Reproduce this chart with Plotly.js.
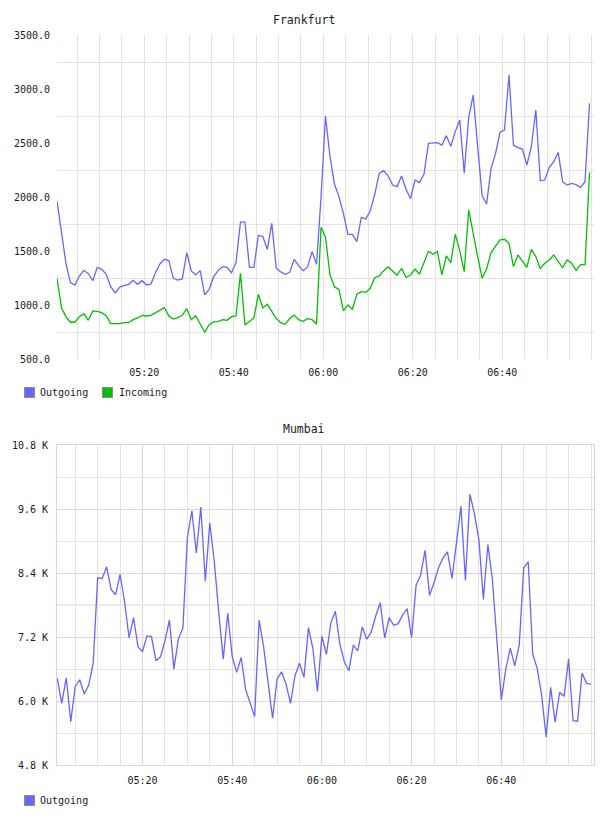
<!DOCTYPE html>
<html>
<head>
<meta charset="utf-8">
<script src="https://cdn.plot.ly/plotly-3.0.1.min.js"></script>
<style>
  html, body { margin: 0; padding: 0; background: #ffffff; }
  #chart { width: 608px; height: 816px; }
</style>
</head>
<body>
<div id="chart"></div>
<script>
// Traffic per minute, 05:00 - 07:00
const DAY = '2024-01-01';

const frankfurtOutgoing = [
  1966, 1682, 1389, 1210, 1188, 1271, 1324, 1293, 1228, 1352,
  1333, 1287, 1173, 1114, 1167, 1182, 1194, 1231, 1194, 1228,
  1188, 1197, 1302, 1383, 1426, 1413, 1250, 1234, 1244, 1488,
  1318, 1281, 1321, 1096, 1148, 1265, 1321, 1358, 1352, 1302,
  1395, 1771, 1771, 1352, 1352, 1648, 1636, 1518, 1759, 1343,
  1309, 1287, 1305, 1426, 1367, 1321, 1355, 1497, 1380, 2000,
  2753, 2376, 2123, 2006, 1852, 1657, 1657, 1589, 1815, 1799,
  1873, 2028, 2222, 2247, 2197, 2114, 2099, 2197, 2074, 1987,
  2160, 2136, 2213, 2500, 2506, 2506, 2484, 2571, 2472, 2608,
  2716, 2222, 2740, 2947, 2469, 2015, 1938, 2268, 2407, 2602,
  2623, 3132, 2484, 2460, 2447, 2299, 2469, 2808, 2154, 2160,
  2278, 2330, 2416, 2142, 2114, 2129, 2117, 2092, 2145, 2870
];

const frankfurtIncoming = [
  1250, 978, 895, 843, 843, 895, 923, 861, 948, 944,
  932, 904, 830, 830, 830, 839, 839, 867, 883, 907,
  901, 907, 932, 954, 978, 901, 873, 886, 907, 969,
  867, 904, 824, 750, 821, 846, 849, 867, 861, 895,
  901, 1296, 818, 849, 883, 1102, 975, 1009, 948, 877,
  839, 824, 877, 910, 867, 852, 877, 867, 827, 1722,
  1630, 1281, 1170, 1148, 948, 1003, 963, 1102, 1126, 1120,
  1157, 1256, 1272, 1321, 1355, 1312, 1278, 1343, 1259, 1281,
  1336, 1290, 1398, 1500, 1472, 1497, 1281, 1457, 1395, 1657,
  1506, 1312, 1883, 1651, 1451, 1250, 1336, 1488, 1543, 1605,
  1611, 1574, 1358, 1466, 1410, 1352, 1518, 1451, 1339, 1389,
  1420, 1466, 1404, 1349, 1420, 1389, 1324, 1376, 1376, 2231
];

const mumbaiOutgoing = [
  6429, 5963, 6442, 5621, 6280, 6404, 6137, 6305, 6709, 8313,
  8301, 8518, 8096, 7996, 8375, 7865, 7194, 7567, 7020, 6933,
  7225, 7213, 6759, 6833, 7132, 7523, 6603, 7175, 7368, 9059,
  9569, 8780, 9638, 8251, 9339, 8624, 7660, 6790, 7648, 6839,
  6541, 6821, 6218, 5950, 5714, 7523, 7020, 6355, 5683, 6417,
  6553, 6323, 5963, 6479, 6715, 6448, 7380, 6976, 6187, 7219,
  6880, 7474, 7685, 7070, 6740, 6572, 7051, 6945, 7393, 7163,
  7300, 7598, 7847, 7188, 7567, 7424, 7455, 7617, 7735, 7194,
  8176, 8357, 8829, 7984, 8220, 8500, 8686, 8798, 8301, 8966,
  9650, 8263, 9880, 9513, 9028, 7909, 8935, 8295, 7163, 6025,
  6603, 6995, 6665, 7057, 8500, 8612, 6883, 6616, 6106, 5329,
  6261, 5608, 6168, 6093, 6790, 5639, 5627, 6529, 6336, 6323
];

// axis ticks
const timeTickLabels = ['05:20', '05:40', '06:00', '06:20', '06:40'];
const frankfurtTicks = [500, 1000, 1500, 2000, 2500, 3000, 3500];
const frankfurtGrid = [750, 1250, 1750, 2250, 2750, 3250];
const mumbaiTicks = [4800, 6000, 7200, 8400, 9600, 10800];
const mumbaiTickText = ['4.8 K', '6.0 K', '7.2 K', '8.4 K', '9.6 K', '10.8 K'];
const mumbaiMinorGrid = [5400, 6600, 7800, 9000, 10200];
const mumbaiMidLine = [7800];

// sample times: one sample per minute
function pad(n) { return String(n).padStart(2, '0'); }
function minuteStamps(startSeconds, count) {
  const out = [];
  for (let i = 0; i < count; i++) {
    const t = startSeconds + i * 60;
    out.push(DAY + ' ' + pad(Math.floor(t / 3600)) + ':' + pad(Math.floor((t % 3600) / 60)) + ':' + pad(t % 60));
  }
  return out;
}
const frankfurtTimes = minuteStamps(5 * 3600 + 30, frankfurtOutgoing.length);
const mumbaiTimes = minuteStamps(5 * 3600 + 60, mumbaiOutgoing.length);
const timeTickVals = timeTickLabels.map(s => DAY + ' ' + s);

const BLUE = '#6666ff';
const GREEN = '#00c000';
const GREY_GRID = '#e3e3e3';
const PURPLE_GRID = '#e6cde6';
const FONT = 'DejaVu Sans Mono, monospace';
const TICKFONT = { family: FONT, size: 10, color: '#1a1a1a' };

const X_DOMAIN = [57 / 608, 594 / 608];
const H = 816;
const topDomain = [1 - 359.3 / H, 1 - 35.3 / H];
const botDomain = [1 - 765.4 / H, 1 - 445 / H];

const traces = [
  { x: frankfurtTimes, y: frankfurtOutgoing, type: 'scatter', mode: 'lines', name: 'Outgoing',
    line: { color: BLUE, width: 1.3 }, xaxis: 'x', yaxis: 'y', showlegend: false, hoverinfo: 'x+y' },
  { x: frankfurtTimes, y: frankfurtIncoming, type: 'scatter', mode: 'lines', name: 'Incoming',
    line: { color: GREEN, width: 1.3 }, xaxis: 'x', yaxis: 'y', showlegend: false, hoverinfo: 'x+y' },
  { x: [], y: [], type: 'scatter', mode: 'lines', xaxis: 'x2', yaxis: 'y3', showlegend: false, hoverinfo: 'skip' },
  { x: mumbaiTimes, y: mumbaiOutgoing, type: 'scatter', mode: 'lines', name: 'Outgoing',
    line: { color: BLUE, width: 1.3 }, xaxis: 'x2', yaxis: 'y2', showlegend: false, hoverinfo: 'x+y' }
];

function timeAxis(range, anchor, gridColor, lineOn) {
  return {
    domain: X_DOMAIN, anchor: anchor, type: 'date', range: range,
    tickmode: 'array', tickvals: timeTickVals, ticktext: timeTickLabels,
    showgrid: true, gridcolor: gridColor, gridwidth: 1,
    minor: { tickmode: 'linear', tick0: DAY + ' 05:00', dtick: 5 * 60 * 1000,
             showgrid: true, gridcolor: GREY_GRID, gridwidth: 1, ticks: '' },
    zeroline: false, showline: lineOn, mirror: lineOn, linecolor: PURPLE_GRID, linewidth: 1,
    ticks: '', tickfont: TICKFONT, ticklabelstandoff: 6, fixedrange: true
  };
}

// legend entries: swatch boxes + labels
function swatch(xPx, yPx, color) {
  return { xref: 'paper', yref: 'paper', x: xPx / 608, y: 1 - yPx / H, xanchor: 'left', yanchor: 'middle',
           text: ' ', showarrow: false, width: 9, height: 9, bgcolor: color,
           bordercolor: '#8c8c8c', borderwidth: 1, borderpad: 0, font: { size: 1 } };
}
function label(xPx, yPx, text) {
  return { xref: 'paper', yref: 'paper', x: xPx / 608, y: 1 - yPx / H, xanchor: 'left', yanchor: 'middle',
           text: text, showarrow: false, borderpad: 0, font: { family: FONT, size: 10, color: '#1a1a1a' } };
}
function title(yPx, text) {
  return { xref: 'paper', yref: 'paper', x: 0.5, y: 1 - yPx / H, xanchor: 'center', yanchor: 'middle',
           text: text, showarrow: false, font: { family: FONT, size: 11.5, color: '#1a1a1a' } };
}

const layout = {
  width: 608, height: 816,
  margin: { l: 0, r: 0, t: 0, b: 0 },
  paper_bgcolor: '#ffffff', plot_bgcolor: '#ffffff',
  showlegend: false,
  xaxis: timeAxis([DAY + ' 05:00:30', DAY + ' 07:00:30'], 'y', GREY_GRID, false),
  yaxis: {
    domain: topDomain, anchor: 'x', range: [500, 3500],
    tickmode: 'array', tickvals: frankfurtTicks, tickformat: '.1f',
    showgrid: false,
    minor: { tickmode: 'array', tickvals: frankfurtGrid, showgrid: true, gridcolor: GREY_GRID, gridwidth: 1, ticks: '' },
    zeroline: false, showline: false, ticks: '', tickfont: TICKFONT, ticklabelstandoff: 6, fixedrange: true
  },
  xaxis2: timeAxis([DAY + ' 05:00:56', DAY + ' 07:00:40'], 'y2', PURPLE_GRID, true),
  yaxis2: {
    domain: botDomain, anchor: 'x2', range: [4800, 10800],
    tickmode: 'array', tickvals: mumbaiTicks, ticktext: mumbaiTickText,
    showgrid: true, gridcolor: PURPLE_GRID, gridwidth: 1,
    minor: { tickmode: 'array', tickvals: mumbaiMinorGrid, showgrid: true, gridcolor: GREY_GRID, gridwidth: 1, ticks: '' },
    zeroline: false, showline: true, mirror: true, linecolor: PURPLE_GRID, linewidth: 1,
    ticks: '', tickfont: TICKFONT, ticklabelstandoff: 6, fixedrange: true
  },
  yaxis3: {
    overlaying: 'y2', anchor: 'x2', range: [4800, 10800],
    tickmode: 'array', tickvals: mumbaiMidLine, showticklabels: false,
    showgrid: true, gridcolor: '#ececec', gridwidth: 2,
    zeroline: false, showline: false, ticks: '', fixedrange: true
  },
  annotations: [
    title(20, 'Frankfurt'),
    title(428.5, 'Mumbai'),
    swatch(24, 392, BLUE), label(39, 392.5, 'Outgoing'),
    swatch(102, 392, GREEN), label(118, 392.5, 'Incoming'),
    swatch(24, 800, BLUE), label(39, 800.5, 'Outgoing')
  ]
};

Plotly.newPlot('chart', traces, layout, { displayModeBar: false, staticPlot: false, responsive: false });
</script>
</body>
</html>
